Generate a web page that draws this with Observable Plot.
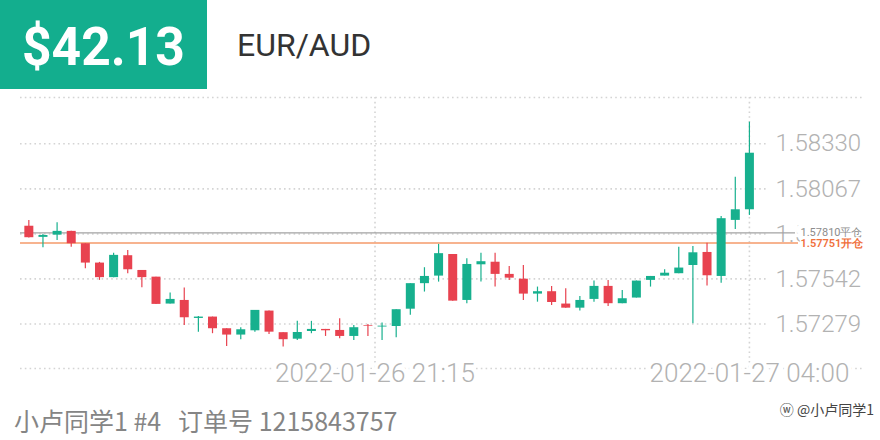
<!DOCTYPE html>
<html>
<head>
<meta charset="utf-8">
<script src="https://cdn.jsdelivr.net/npm/d3@7"></script>
<script src="https://cdn.jsdelivr.net/npm/@observablehq/plot@0.6"></script>
<style>
  html, body { margin: 0; padding: 0; background: #fff; width: 880px; height: 440px; overflow: hidden; position: relative; }
  #badge { position: absolute; left: 0; top: 0; width: 207px; height: 89px; background: #13ae8e; }
  #price { position: absolute; left: 22px; top: 15px; font: 700 54px Roboto, sans-serif; color: #fff; transform: scaleX(0.955); transform-origin: left center; }
  #pair { position: absolute; left: 237px; top: 26px; font: 400 32px Roboto, sans-serif; color: #333; }
  #chart { position: absolute; left: 0; top: 90px; }
  #footer { position: absolute; left: 14px; top: 402px; line-height: normal; font: 400 25px "Noto Sans CJK SC", sans-serif; color: #858585; white-space: pre; }
  #mark { position: absolute; right: 6px; top: 399px; line-height: 22px; font: 400 14px "Noto Sans CJK SC", sans-serif; color: #444; white-space: pre; }
</style>
</head>
<body>
<div id="badge"></div>
<div id="price"></div>
<div id="pair"></div>
<div id="chart"></div>
<div id="footer"></div>
<div id="mark"></div>
<script>
const headline = "$42.13";
const symbol = "EUR/AUD";
const footerText = "小卢同学1 #4   订单号 1215843757";
const watermark = "ⓦ @小卢同学1";

const opens = [1.57849,1.57784,1.57797,1.57819,1.57747,1.57634,1.57549,1.57677,1.57591,1.57552,
1.57395,1.57416,1.57311,1.57319,1.57251,1.57214,1.57239,1.57354,1.57228,1.57190,
1.57235,1.57247,1.57241,1.57206,1.57270,1.57261,1.57264,1.57365,1.57514,1.57558,
1.57684,1.57416,1.57624,1.57639,1.57568,1.57540,1.57453,1.57467,1.57395,1.57371,
1.57422,1.57498,1.57397,1.57430,1.57533,1.57558,1.57572,1.57620,1.57696,1.57556,
1.57883,1.57945];
const closes = [1.57782,1.57795,1.57819,1.57747,1.57634,1.57549,1.57679,1.57595,1.57549,1.57393,
1.57422,1.57315,1.57319,1.57251,1.57214,1.57245,1.57358,1.57231,1.57187,1.57229,
1.57247,1.57239,1.57206,1.57257,1.57266,1.57266,1.57362,1.57514,1.57556,1.57689,
1.57412,1.57626,1.57642,1.57568,1.57546,1.57453,1.57467,1.57404,1.57371,1.57416,
1.57498,1.57397,1.57426,1.57529,1.57556,1.57575,1.57605,1.57694,1.57560,1.57893,
1.57945,1.58275];
const highs = [1.57883,1.57801,1.57869,1.57820,1.57747,1.57638,1.57692,1.57708,1.57591,1.57552,
1.57459,1.57488,1.57323,1.57319,1.57251,1.57257,1.57358,1.57354,1.57228,1.57294,
1.57294,1.57247,1.57309,1.57270,1.57276,1.57284,1.57362,1.57514,1.57607,1.57743,
1.57684,1.57659,1.57692,1.57692,1.57614,1.57620,1.57494,1.57498,1.57484,1.57439,
1.57529,1.57533,1.57474,1.57529,1.57556,1.57595,1.57727,1.57731,1.57750,1.57906,
1.58135,1.58456];
const lows = [1.57781,1.57723,1.57766,1.57727,1.57601,1.57533,1.57549,1.57572,1.57490,1.57393,
1.57395,1.57270,1.57231,1.57222,1.57148,1.57187,1.57231,1.57218,1.57144,1.57183,
1.57222,1.57206,1.57193,1.57183,1.57206,1.57183,1.57199,1.57329,1.57465,1.57523,
1.57412,1.57397,1.57523,1.57494,1.57533,1.57416,1.57406,1.57387,1.57371,1.57354,
1.57406,1.57381,1.57397,1.57430,1.57494,1.57558,1.57572,1.57280,1.57500,1.57517,
1.57830,1.57912];

const yTicks = [1.57279, 1.57542, 1.57804, 1.58067, 1.58330];
const yFrame = [1.57019, 1.58600];
const dateTickPos = [24.5, 51];
const dateTickLabels = ["2022-01-26 21:15", "2022-01-27 04:00"];
const closeLevel = 1.57810, closeLabel = "平仓";
const openLevel = 1.57751, openLabel = "开仓";

const UP = "#17b08e", DOWN = "#e8424f";
const candles = opens.map((o, i) => ({i, open: o, close: closes[i], high: highs[i], low: lows[i]}));
const col = d => d.close >= d.open ? UP : DOWN;

document.getElementById("price").textContent = headline;
document.getElementById("pair").textContent = symbol;
document.getElementById("footer").textContent = footerText;
document.getElementById("mark").textContent = watermark;

const grid = {stroke: "#d4d4d4", strokeWidth: 1.6, strokeDasharray: "1.6,3.2"};
const axisFont = {fontFamily: "Roboto", fontWeight: 300, fontSize: 24, fill: "#b2b2b2"};

const chart = Plot.plot({
  width: 880, height: 300,
  marginLeft: 20, marginRight: 113, marginTop: 7, marginBottom: 22,
  style: {fontFamily: "Roboto", background: "transparent", overflow: "visible"},
  x: {type: "linear", domain: [-0.59, 52.28], axis: null},
  y: {domain: yFrame, axis: null},
  marks: [
    Plot.ruleY(yFrame, {...grid, insetRight: -97}),
    Plot.ruleY(yTicks, grid),
    Plot.ruleX(dateTickPos, {...grid}),
    Plot.text(yTicks, {y: d => d, text: d => d.toFixed(5), frameAnchor: "right", textAnchor: "start", dx: 8, ...axisFont}),
    Plot.text(dateTickPos, {x: d => d, text: (d, i) => dateTickLabels[i], frameAnchor: "bottom", dy: 5, lineAnchor: "middle", ...axisFont, fontSize: 26, stroke: "white", strokeWidth: 8, paintOrder: "stroke"}),
    Plot.ruleY([closeLevel], {stroke: "#a3a3a3", strokeWidth: 1.4, insetRight: -28}),
    Plot.text([closeLevel], {y: d => d, text: d => d.toFixed(5) + closeLabel, frameAnchor: "right", textAnchor: "start", dx: 33, fontSize: 11, fill: "#8c8c8c", stroke: "white", strokeWidth: 10, paintOrder: "stroke"}),
    Plot.ruleY([openLevel], {stroke: "#f59a6a", strokeWidth: 1.6, insetRight: -31}),
    Plot.text([openLevel], {y: d => d, text: d => d.toFixed(5) + openLabel, frameAnchor: "right", textAnchor: "start", dx: 33, fontSize: 11, fontWeight: 600, fill: "#f0703c", stroke: "white", strokeWidth: 3, paintOrder: "stroke"}),
    Plot.ruleX(candles, {x: "i", y1: "low", y2: "high", stroke: col, strokeWidth: 1.2}),
    Plot.ruleX(candles, {x: "i", y1: "open", y2: "close", stroke: col, strokeWidth: 9})
  ]
});
document.getElementById("chart").appendChild(chart);
</script>
</body>
</html>
